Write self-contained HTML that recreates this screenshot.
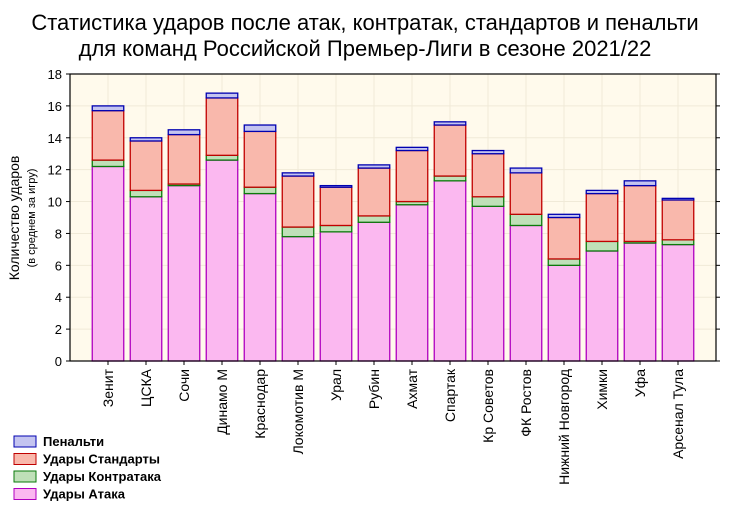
<!DOCTYPE html>
<html><head><meta charset="utf-8"><style>
body{margin:0;background:#fff;width:730px;height:508px;overflow:hidden;font-family:"Liberation Sans",sans-serif}
</style></head><body>
<svg width="730" height="508" xmlns="http://www.w3.org/2000/svg" font-family="Liberation Sans, sans-serif">
<text x="365" y="30" text-anchor="middle" font-size="22">Статистика ударов после атак, контратак, стандартов и пенальти</text>
<text x="365" y="56" text-anchor="middle" font-size="22">для команд Российской Премьер-Лиги в сезоне 2021/22</text>
<rect x="70" y="74" width="646" height="287" fill="#fffaec"/>
<g id="grid"></g><g id="bars"></g><g id="axes"></g>
<text transform="translate(19,218) rotate(-90)" text-anchor="middle" font-size="14">Количество ударов</text>
<text transform="translate(35,218) rotate(-90)" text-anchor="middle" font-size="11">(в среднем за игру)</text>
<g id="legend" font-size="13" font-weight="bold"></g>
</svg>
<script>
const teams=["Зенит","ЦСКА","Сочи","Динамо М","Краснодар","Локомотив М","Урал","Рубин","Ахмат","Спартак","Кр Советов","ФК Ростов","Нижний Новгород","Химки","Уфа","Арсенал Тула"];
const attack=[12.2,10.3,11.0,12.6,10.5,7.8,8.1,8.7,9.8,11.3,9.7,8.5,6.0,6.9,7.4,7.3];
const counter=[0.4,0.4,0.1,0.3,0.4,0.6,0.4,0.4,0.2,0.3,0.6,0.7,0.4,0.6,0.1,0.3];
const setpiece=[3.1,3.1,3.1,3.6,3.5,3.2,2.4,3.0,3.2,3.2,2.7,2.6,2.6,3.0,3.5,2.5];
const penalty=[0.3,0.2,0.3,0.3,0.4,0.2,0.1,0.2,0.2,0.2,0.2,0.3,0.2,0.2,0.3,0.1];
const yTicks=[0,2,4,6,8,10,12,14,16,18];
const NS="http://www.w3.org/2000/svg";
const X0=70,X1=716,Y0=361,Y1=74,YMAX=18;
const y=v=>Y0-(v/YMAX)*(Y0-Y1);
const step=(X1-X0)/(teams.length+1);
const xc=i=>X0+step*(i+1);
function mk(tag,at,parent){const e=document.createElementNS(NS,tag);for(const k in at)e.setAttribute(k,at[k]);parent.appendChild(e);return e;}
const grid=document.getElementById('grid'),bars=document.getElementById('bars'),axes=document.getElementById('axes'),leg=document.getElementById('legend');
yTicks.forEach(t=>{
 const l=mk('line',{x1:X0,x2:X1,y1:y(t),y2:y(t),stroke:'#f0ead8','stroke-width':1},grid);
 
 
 const tk=mk('line',{x1:X0-4,x2:X0,y1:y(t),y2:y(t),stroke:'#000'},axes);
 
 
 const tk2=mk('line',{x1:X1,x2:X1+4,y1:y(t),y2:y(t),stroke:'#000'},axes);
 
 
 const tx=mk('text',{x:X0-8,y:y(t)+5,'text-anchor':'end','font-size':13},axes);tx.textContent=t;
 
 
});
teams.forEach((_,i)=>{const g=mk('line',{x1:xc(i),x2:xc(i),y1:Y1,y2:Y0,stroke:'#f0ead8'},grid);
 
 });
const series=[[attack,'#fbb8f0','#b000c0','attack'],[counter,'#bfe0b8','#0a7a0a','counter'],[setpiece,'#f9b8ac','#c00000','setpiece'],[penalty,'#c4c4f0','#0000b0','penalty']];
const bw=31.5;
teams.forEach((t,i)=>{
 let base=0;
 series.forEach(s=>{
  const v=s[0][i];
  const r=mk('rect',{x:xc(i)-bw/2,y:y(base+v),width:bw,height:y(base)-y(base+v),fill:s[1],stroke:s[2],'stroke-width':1.3},bars);
  
  
  base+=v;
 });
 const tk=mk('line',{x1:xc(i),x2:xc(i),y1:Y0,y2:Y0+4,stroke:'#000'},axes);
 
 
 const tx=mk('text',{transform:`translate(${xc(i)+5},${Y0+8}) rotate(-90)`,'text-anchor':'end','font-size':14},axes);tx.textContent=t;
 
 
});
const fr=mk('rect',{x:X0,y:Y1,width:X1-X0,height:Y0-Y1,fill:'none',stroke:'#000','stroke-width':1.2},axes);


const legItems=[['Пенальти','#c4c4f0','#0000b0'],['Удары Стандарты','#f9b8ac','#c00000'],['Удары Контратака','#bfe0b8','#0a7a0a'],['Удары Атака','#fbb8f0','#b000c0']];
legItems.forEach((it,k)=>{
 const yy=436+k*17.5;
 const r=mk('rect',{x:14,y:yy,width:22,height:11,fill:it[1],stroke:it[2],'stroke-width':1},leg);
 
 
 const tx=mk('text',{x:43,y:yy+10},leg);tx.textContent=it[0];
 
 
});
</script>
</body></html>
